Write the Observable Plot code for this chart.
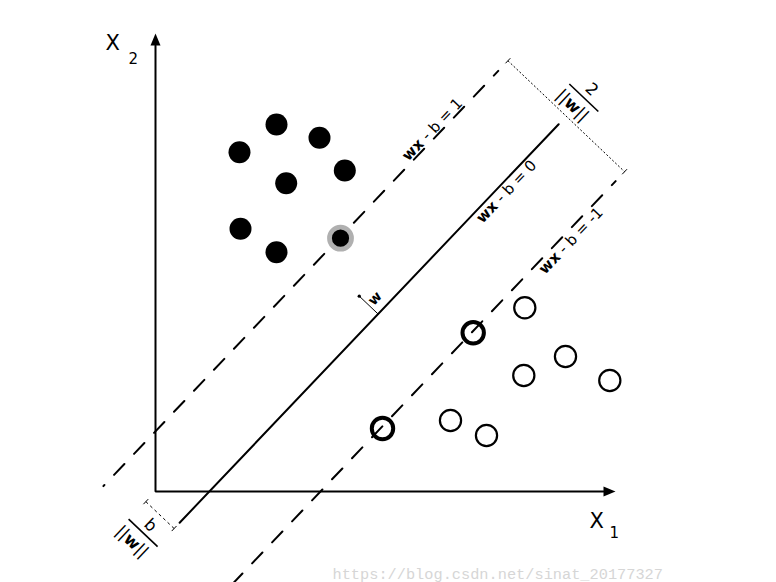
<!DOCTYPE html>
<html><head><meta charset="utf-8">
<script src="https://cdn.jsdelivr.net/npm/d3@7"></script>
<script src="https://cdn.jsdelivr.net/npm/@observablehq/plot@0.6"></script>
<style>
html,body{margin:0;padding:0;background:#fff;}
#chart{width:776px;height:582px;overflow:hidden;}
</style></head><body><div id="chart"></div>
<script>
// ---- data ----
const posX1 = [8.4, 12.1, 16.4, 18.93, 13.07, 8.5, 12.1, 18.5];
const posX2 = [33.93, 36.7, 35.37, 32.1, 30.83, 26.27, 23.93, 25.33];
const posSupport = [0, 0, 0, 0, 0, 0, 0, 1];
const negX1 = [36.93, 41.0, 36.83, 45.43, 29.5, 33.1, 31.77, 22.7];
const negX2 = [18.37, 13.5, 11.6, 11.1, 7.1, 5.6, 15.87, 6.3];
const negSupport = [0, 0, 0, 0, 0, 0, 1, 1];
const w = [-0.0900, 0.0856];
const b = -0.4845;
const levels = [1, 0, -1];
const levelLabels = ["wx - b = 1", "wx - b = 0", "wx - b = -1"];
const lineStart = [-3.2, -0.6, -3.0];
const lineEnd = [54.1, 54.4, 54.2];
const labelT = [45.3, 45.9, 46.8];
const axisLength = [46, 45.8];
const axisLabels = ["X", "X"];
const axisSubs = ["1", "2"];
const marginLabel = ["2", "||w||"];
const offsetLabel = ["b", "||w||"];
const watermark = ["https://blog.csdn.net/sinat_20177327"];

// ---- geometry from the model ----
const nw = Math.hypot(w[0], w[1]);
const n = [w[0] / nw, w[1] / nw];
const d = [w[1] / nw, -w[0] / nw];
const foot = c => [(b + c) * w[0] / (nw * nw), (b + c) * w[1] / (nw * nw)];
const at = (c, t, o = 0) => { const p = foot(c); return [p[0] + t * d[0] + o * n[0], p[1] + t * d[1] + o * n[1]]; };
const add = (p, v, k) => [p[0] + k * v[0], p[1] + k * v[1]];
const theta = -Math.atan2(d[1], d[0]) * 180 / Math.PI; // text along lines
const thetaDim = theta + 90;

const linesRows = [];
levels.forEach((c, i) => {
  [lineStart[i], lineEnd[i]].forEach(t => { const p = at(c, t); linesRows.push({c, x: p[0], y: p[1]}); });
});
const solidRows = linesRows.filter(r => r.c === 0);
const dashRows = linesRows.filter(r => r.c !== 0);

const pos = posX1.map((x, i) => ({x, y: posX2[i], sv: posSupport[i]}));
const neg = negX1.map((x, i) => ({x, y: negX2[i], sv: negSupport[i]}));

// margin dimension (2/||w||)
const tDim = 55.5;
const dimA = at(1, tDim), dimB = at(-1, tDim);
const dimMid = [(dimA[0] + dimB[0]) / 2, (dimA[1] + dimB[1]) / 2];
// offset dimension (b/||w||)
const sh = -1.4;
const offA = add([0, 0], d, sh), offB = at(0, sh);
const offMid = [(offA[0] + offB[0]) / 2, (offA[1] + offB[1]) / 2];
const tickRows = [dimA, dimB, offA, offB].map(p => { const a = add(p, d, -0.35), e = add(p, d, 0.35); return {x1: a[0], y1: a[1], x2: e[0], y2: e[1]}; });

// fraction labels
const barTop = add(dimMid, d, 2.55);
const barBot = add(offMid, d, -2.45);
const bars = [barTop, barBot].map(p => { const a = add(p, n, 2.0), e = add(p, n, -2.0); return {x1: a[0], y1: a[1], x2: e[0], y2: e[1]}; });
const numRows = [
  {p: add(barTop, d, 1.15), s: marginLabel[0]},
  {p: add(add(barTop, d, -1.35), n, 0.3), s: marginLabel[1]},
  {p: add(barBot, d, 1.05), s: offsetLabel[0]},
  {p: add(add(barBot, d, -1.4), n, 0.2), s: offsetLabel[1]}
].map(r => ({x: r.p[0], y: r.p[1], s: r.s}));

// w arrow
const tW = 28.2;
const wA = at(0, tW, 0), wB = at(0, tW, 2.6);
const wMid = add(at(0, tW, 1.3), d, 0.9);

// line labels
const labelRows = levels.map((c, i) => {
  const o = c === 1 ? 0.25 : -1.35;
  const p = at(c, labelT[i], o);
  return {x: p[0], y: p[1], s: levelLabels[i]};
});

const xTip = {x: axisLength[0], y: 0}, yTip = {x: 0, y: axisLength[1]};
const tipText = (tip, s, size, dx, dy) => Plot.text([{...tip, s}], {x: "x", y: "y", text: "s", fontSize: size, lineAnchor: "bottom", textAnchor: "start", dx, dy});

const plot = Plot.plot({
  width: 776, height: 582, margin: 0,
  x: {domain: [-15.5, 62.1], axis: null},
  y: {domain: [-9.1, 49.1], axis: null},
  style: {fontFamily: "DejaVu Sans", background: "white", color: "black"},
  marks: [
    // axes
    Plot.line([[yTip.x, yTip.y - 1.2], [0, 0], [xTip.x - 1.2, xTip.y]], {stroke: "black", strokeWidth: 2, strokeLinejoin: "miter"}),
    Plot.vector([{x: yTip.x, y: yTip.y - 1.2, r: 0}, {x: xTip.x - 1.2, y: xTip.y, r: 90}], {x: "x", y: "y", rotate: "r", length: 12, r: 5, shape: "spike", anchor: "start", fill: "black", stroke: "none"}),
    // hyperplane & margins
    Plot.line(solidRows, {x: "x", y: "y", stroke: "black", strokeWidth: 2}),
    Plot.line(dashRows, {x: "x", y: "y", z: "c", stroke: "black", strokeWidth: 2, strokeDasharray: "15,14", strokeDashoffset: 13.5}),
    // dimension lines
    Plot.link([{x1: dimA[0], y1: dimA[1], x2: dimB[0], y2: dimB[1]}], {x1: "x1", y1: "y1", x2: "x2", y2: "y2", stroke: "black", strokeWidth: 1, strokeDasharray: "2,2"}),
    Plot.link([{x1: offA[0], y1: offA[1], x2: offB[0], y2: offB[1]}], {x1: "x1", y1: "y1", x2: "x2", y2: "y2", stroke: "black", strokeWidth: 1, strokeDasharray: "3,3"}),
    Plot.link(tickRows, {x1: "x1", y1: "y1", x2: "x2", y2: "y2", stroke: "black", strokeWidth: 1}),
    Plot.link(bars, {x1: "x1", y1: "y1", x2: "x2", y2: "y2", stroke: "black", strokeWidth: 1.6}),
    Plot.text(numRows, {x: "x", y: "y", text: "s", rotate: thetaDim, fontSize: 16.5, lineAnchor: "middle", textAnchor: "middle"}),
    // w arrow
    Plot.link([{x1: wA[0], y1: wA[1], x2: wB[0], y2: wB[1]}], {x1: "x1", y1: "y1", x2: "x2", y2: "y2", stroke: "black", strokeWidth: 1, markerEnd: "dot"}),
    Plot.text(["w"], {x: () => wMid[0], y: () => wMid[1], text: d => d, rotate: theta, fontSize: 14, fontWeight: "bold", lineAnchor: "middle"}),
    // points
    Plot.dot(pos.filter(p => !p.sv), {x: "x", y: "y", r: 11, fill: "black"}),
    Plot.dot(pos.filter(p => p.sv), {x: "x", y: "y", r: 11, fill: "black", stroke: "#b0b0b0", strokeWidth: 4.8}),
    Plot.dot(neg.filter(p => !p.sv), {x: "x", y: "y", r: 10.6, fill: "none", stroke: "black", strokeWidth: 2.2}),
    Plot.dot(neg.filter(p => p.sv), {x: "x", y: "y", r: 10.7, fill: "none", stroke: "black", strokeWidth: 4}),
    // line labels
    Plot.text(labelRows, {x: "x", y: "y", text: "s", rotate: theta, fontSize: 15, lineAnchor: "bottom", textAnchor: "middle"}),
    // axis labels
    tipText(xTip, axisLabels[0], 21, -26, 36),
    tipText(xTip, axisSubs[0], 15, -6, 46),
    tipText(yTip, axisLabels[1], 21, -50, 16),
    tipText(yTip, axisSubs[1], 15, -27, 30),
    // watermark
    Plot.text(watermark, {frameAnchor: "bottom-left", text: d => d, dx: 332, dy: -4, lineAnchor: "bottom", textAnchor: "start", fontSize: 15.3, fontFamily: "Liberation Mono", fill: "#d6d6d6"})
  ]
});

// bold vector symbols w and x inside the formula labels
function boldify(el) {
  const s = el.textContent;
  el.textContent = "";
  const ns = "http://www.w3.org/2000/svg";
  for (const ch of s) {
    const sp = document.createElementNS(ns, "tspan");
    sp.textContent = ch;
    if (ch === "w" || ch === "x") sp.setAttribute("font-weight", "bold");
    el.appendChild(sp);
  }
}
plot.querySelectorAll("text").forEach(t => {
  const s = t.textContent;
  if (s.startsWith("wx") || s === "||w||") boldify(t);
});
document.getElementById("chart").appendChild(plot);
</script></body></html>
